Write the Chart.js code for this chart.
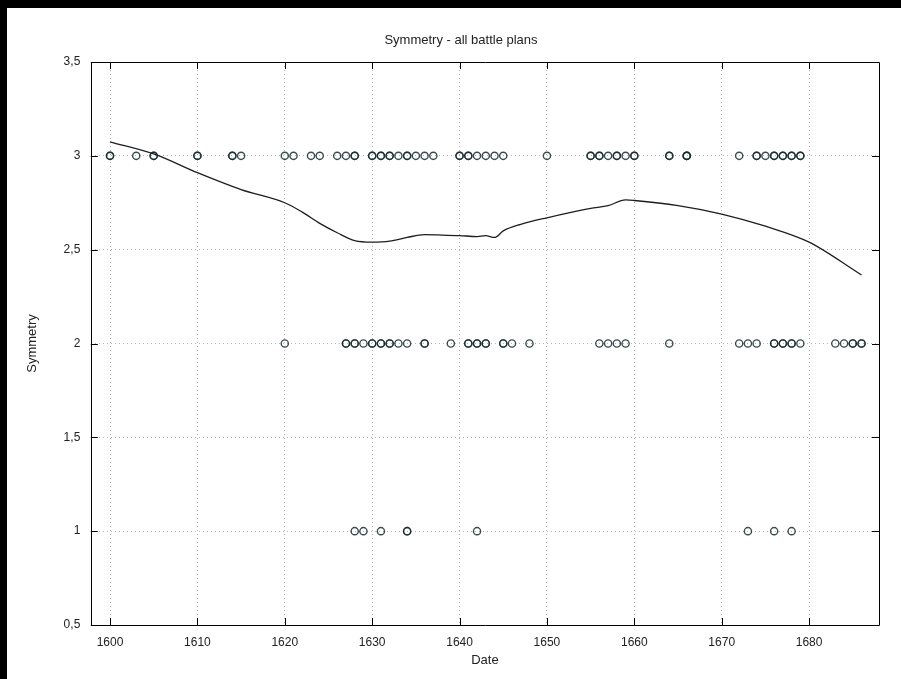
<!DOCTYPE html>
<html>
<head>
<meta charset="utf-8">
<script src="https://cdn.jsdelivr.net/npm/chart.js@4.4.1/dist/chart.umd.min.js"></script>
<style>
  html, body { margin: 0; padding: 0; background: #000; }
  body { width: 901px; height: 679px; overflow: hidden; position: relative; }
  #wrap { position: absolute; left: 7px; top: 8px; width: 894px; height: 671px; background: #fff; }
  canvas { display: block; }
</style>
</head>
<body>
<div id="wrap"><canvas id="c" width="894" height="671"></canvas></div>
<script>
// Battle plan dates by symmetry level (duplicates = overlapping plans)
const yearsSym3 = [1600,1600,1603,1605,1605,1610,1610,1614,1614,1615,1620,1621,1623,1624,1626,1627,1628,1628,
  1630,1630,1631,1631,1632,1632,1633,1634,1634,1635,1636,1637,1640,1640,1641,1641,1642,1643,1644,1645,1650,
  1655,1655,1656,1656,1657,1658,1658,1659,1660,1660,1664,1664,1666,1666,1666,1672,1674,1674,1675,1676,1676,
  1677,1677,1678,1678,1679,1679];
const yearsSym2 = [1620,1627,1627,1628,1628,1629,1630,1630,1631,1631,1632,1632,1633,1634,1636,1636,1639,
  1641,1641,1642,1642,1643,1643,1645,1645,1646,1648,1656,1657,1658,1659,1664,1672,1673,1674,1676,1676,
  1677,1677,1678,1678,1679,1683,1684,1685,1685,1686,1686];
const yearsSym1 = [1628,1629,1631,1634,1634,1642,1673,1676,1678];

// Smoothed (loess) curve
const lineYears  = [1600,1605,1610,1615,1620,1622,1624,1626,1628,1630,1632,1634,1636,1638,1640,1642,1643,1644,1645,1647,1650,1655,1657,1659,1660,1665,1670,1675,1680,1686];
const lineValues = [3.075,3.01,2.91,2.82,2.75,2.70,2.64,2.59,2.548,2.54,2.545,2.565,2.58,2.578,2.575,2.57,2.575,2.565,2.60,2.635,2.67,2.72,2.735,2.765,2.762,2.735,2.69,2.625,2.54,2.365];

const xTicks = [1600,1610,1620,1630,1640,1650,1660,1670,1680];
const yTicks = [0.5,1,1.5,2,2.5,3,3.5];

const pts = [];
yearsSym3.forEach(y => pts.push({x: y, y: 3}));
yearsSym2.forEach(y => pts.push({x: y, y: 2}));
yearsSym1.forEach(y => pts.push({x: y, y: 1}));
const linePts = lineYears.map((y, i) => ({x: y, y: lineValues[i]}));

const FONT = "'Liberation Sans', Arial, sans-serif";
const TXT = '#222';
const PADL = 36;

const frameTicks = {
  id: 'frameTicks',
  afterDatasetsDraw(chart) {
    const {ctx, chartArea: a, scales} = chart;
    ctx.save();
    ctx.strokeStyle = '#000';
    ctx.lineWidth = 1;
    ctx.beginPath();
    ctx.rect(Math.round(a.left) + 0.5, Math.round(a.top) + 0.5, Math.round(a.right - a.left), Math.round(a.bottom - a.top));
    ctx.stroke();
    const L = 7;
    ctx.beginPath();
    xTicks.forEach(v => {
      const px = Math.round(scales.x.getPixelForValue(v)) + 0.5;
      ctx.moveTo(px, a.bottom); ctx.lineTo(px, a.bottom - L);
      ctx.moveTo(px, a.top); ctx.lineTo(px, a.top + L);
    });
    yTicks.forEach(v => {
      const py = Math.round(scales.y.getPixelForValue(v)) + 0.5;
      ctx.moveTo(a.left, py); ctx.lineTo(a.left + L, py);
      ctx.moveTo(a.right, py); ctx.lineTo(a.right - L, py);
    });
    ctx.stroke();
    ctx.restore();
  }
};

new Chart(document.getElementById('c'), {
  type: 'scatter',
  data: {
    datasets: [
      {
        label: 'Symmetry',
        data: pts,
        showLine: false,
        pointStyle: 'circle',
        pointRadius: 3.6,
        pointBorderWidth: 1.4,
        pointBackgroundColor: 'rgba(0,0,0,0)',
        pointBorderColor: 'rgba(25,45,45,0.85)'
      },
      {
        label: 'loess',
        type: 'line',
        data: linePts,
        showLine: true,
        pointRadius: 0,
        borderColor: '#1e1e1e',
        borderWidth: 1.3,
        cubicInterpolationMode: 'monotone',
        fill: false
      }
    ]
  },
  plugins: [frameTicks],
  options: {
    responsive: false,
    animation: false,
    layout: { padding: { left: PADL, right: 22, top: 0, bottom: 0 } },
    plugins: {
      legend: { display: false },
      tooltip: { enabled: false },
      title: {
        display: true,
        text: 'Symmetry - all battle plans',
        color: TXT,
        font: { family: FONT, size: 13, weight: 'normal' },
        padding: { top: 24.2, bottom: 14.2 }
      }
    },
    scales: {
      x: {
        type: 'linear',
        min: 1597.8,
        max: 1688,
        afterFit(s) { s.height = 54; },
        afterBuildTicks(s) { s.ticks = xTicks.map(v => ({value: v})); },
        ticks: {
          includeBounds: false,
          stepSize: 10,
          padding: 10.8,
          color: TXT,
          font: { family: FONT, size: 12 },
          maxRotation: 0,
          callback: v => String(v)
        },
        grid: { drawTicks: false, color: '#b4b4b4', lineWidth: 1 },
        border: { display: false, dash: [1, 3] },
        title: {
          display: true,
          text: 'Date',
          color: TXT,
          font: { family: FONT, size: 13 },
          padding: { top: 0, bottom: 11.2 }
        }
      },
      y: {
        type: 'linear',
        min: 0.5,
        max: 3.5,
        afterFit(s) { s.width = 83.8 - PADL; },
        afterBuildTicks(s) { s.ticks = yTicks.map(v => ({value: v})); },
        ticks: {
          stepSize: 0.5,
          padding: 10.5,
          color: TXT,
          font: { family: FONT, size: 12 },
          callback: v => String(v).replace('.', ',')
        },
        grid: { drawTicks: false, color: '#b4b4b4', lineWidth: 1 },
        border: { display: false, dash: [1, 3] },
        title: {
          display: true,
          text: 'Symmetry',
          color: TXT,
          font: { family: FONT, size: 13 },
          padding: { top: 17.2 - PADL, bottom: 0 }
        }
      }
    }
  }
});
</script>
</body>
</html>
